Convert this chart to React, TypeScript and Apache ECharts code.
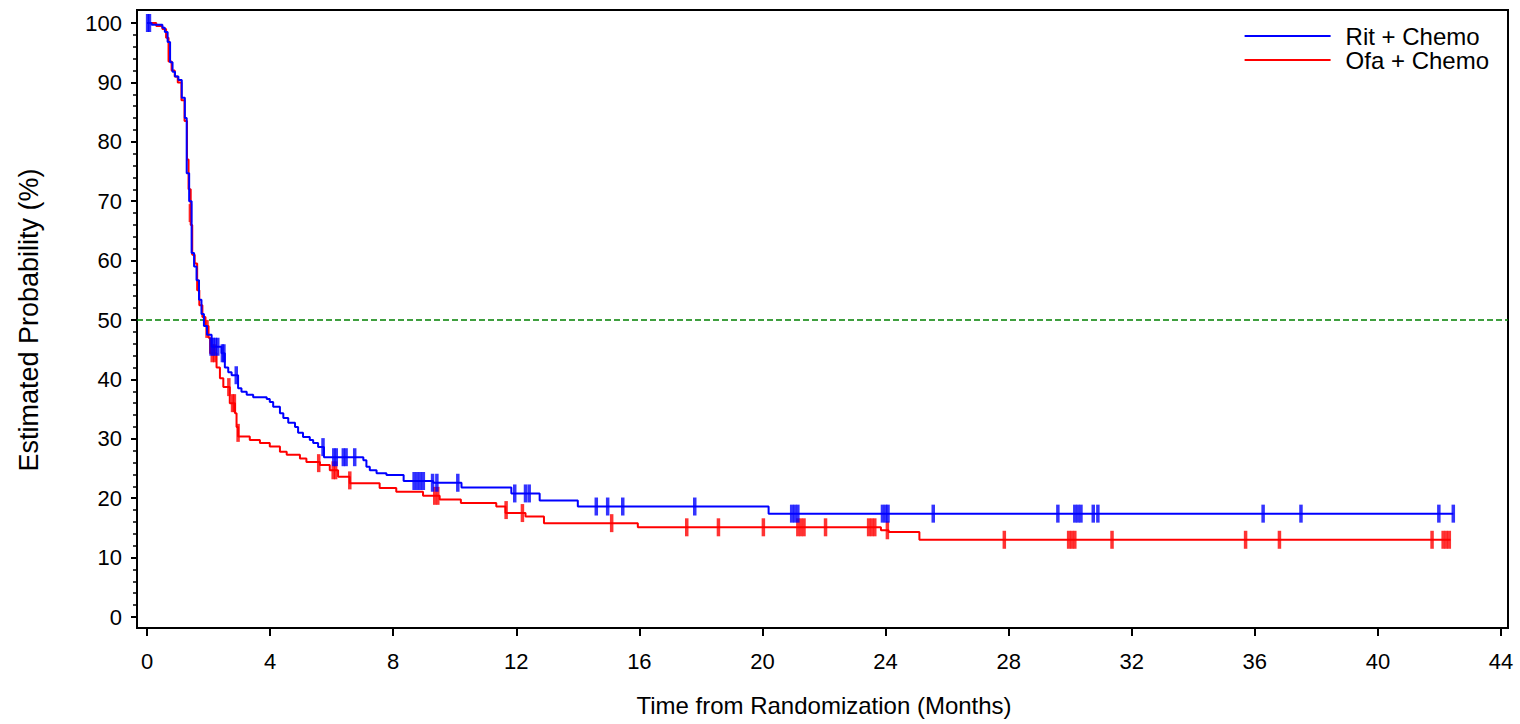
import React, { useEffect, useRef } from "react";
import * as echarts from "echarts";

const seriesNames = ["Rit + Chemo", "Ofa + Chemo"];
const xAxisTitle = "Time from Randomization (Months)";
const yAxisTitle = "Estimated Probability (%)";
const referenceLevel = 50;

// Kaplan-Meier step points [month, survival %]
const ritSteps: [number, number][] = [
  [0, 100], [0.15, 99.7], [0.5, 99.2], [0.58, 98.5], [0.67, 96.8], [0.75, 93.4], [0.83, 91.8],
  [0.91, 91.0], [1.02, 90.4], [1.13, 87.4], [1.23, 84.0], [1.29, 74.7], [1.37, 70.0], [1.45, 61.3],
  [1.53, 59.0], [1.61, 56.7], [1.69, 53.4], [1.77, 51.0], [1.85, 49.0], [1.95, 47.5], [2.1, 45.5],
  [2.42, 44.4], [2.53, 42.0], [2.64, 41.2], [2.75, 40.7], [2.96, 38.5], [3.07, 37.9], [3.24, 37.4],
  [3.45, 37.0], [3.89, 36.7], [3.99, 36.2], [4.1, 35.4], [4.32, 34.3], [4.43, 33.5], [4.59, 32.7],
  [4.81, 32.0], [4.91, 31.0], [5.07, 30.3], [5.29, 29.8], [5.4, 29.3], [5.56, 28.6], [5.75, 26.9],
  [7.03, 26.4], [7.13, 25.3], [7.24, 24.7], [7.46, 24.2], [7.78, 23.9], [8.34, 22.9], [9.3, 22.6],
  [10.22, 21.8], [11.84, 20.8], [12.76, 19.6], [14.0, 18.6], [20.2, 17.4], [42.45, 17.4],
];

const ritCensors: [number, number][] = [
  [0.02, 100], [0.08, 100], [2.08, 45.5], [2.15, 45.5], [2.22, 45.5], [2.3, 45.5], [2.45, 44.4],
  [2.5, 44.4], [2.9, 40.7], [5.72, 28.6], [6.07, 26.9], [6.15, 26.9], [6.38, 26.9], [6.47, 26.9],
  [6.75, 26.9], [8.68, 22.9], [8.78, 22.9], [8.88, 22.9], [8.98, 22.9], [9.28, 22.6], [9.42, 22.6],
  [10.1, 22.6], [11.95, 20.8], [12.3, 20.8], [12.42, 20.8], [14.6, 18.6], [14.97, 18.6], [15.46, 18.6],
  [17.8, 18.6], [20.95, 17.4], [21.05, 17.4], [21.15, 17.4], [23.9, 17.4], [24.0, 17.4], [24.08, 17.4],
  [25.55, 17.4], [29.6, 17.4], [30.15, 17.4], [30.25, 17.4], [30.35, 17.4], [30.75, 17.4], [30.9, 17.4],
  [36.27, 17.4], [37.5, 17.4], [41.98, 17.4], [42.45, 17.4],
];

const ofaSteps: [number, number][] = [
  [0, 100], [0.3, 99.5], [0.5, 99.0], [0.62, 97.5], [0.7, 93.5], [0.8, 92.0], [0.9, 91.0],
  [1.0, 90.0], [1.12, 87.0], [1.22, 83.5], [1.3, 77.0], [1.35, 72.0], [1.42, 66.0], [1.47, 61.0],
  [1.55, 59.5], [1.63, 55.0], [1.7, 52.5], [1.8, 50.5], [1.9, 49.0], [2.0, 47.0], [2.05, 44.4],
  [2.26, 42.0], [2.37, 40.2], [2.48, 38.7], [2.69, 36.0], [2.86, 34.3], [2.91, 32.0], [2.96, 30.4],
  [3.34, 29.8], [3.67, 29.3], [3.99, 28.7], [4.32, 27.8], [4.54, 27.3], [4.97, 26.7], [5.18, 26.1],
  [5.62, 25.6], [5.94, 24.7], [6.21, 23.6], [6.59, 22.5], [7.56, 21.7], [8.1, 21.1], [8.97, 20.4],
  [9.51, 19.8], [10.2, 19.2], [11.35, 18.6], [11.65, 17.5], [12.3, 16.9], [12.9, 15.8], [15.95, 15.1],
  [23.85, 14.6], [24.1, 14.3], [25.1, 13.0], [42.36, 13.0],
];

const ofaCensors: [number, number][] = [
  [1.41, 68], [1.95, 48.5], [2.12, 44.4], [2.2, 44.4], [2.66, 38.7], [2.78, 36.0], [2.84, 36.0],
  [2.96, 31.0], [5.58, 25.9], [6.05, 24.7], [6.13, 24.7], [6.59, 23.0], [9.35, 20.4], [9.45, 20.4],
  [11.67, 18.0], [12.2, 17.5], [15.1, 15.8], [17.54, 15.1], [18.57, 15.1], [20.03, 15.1], [21.15, 15.1],
  [21.25, 15.1], [21.35, 15.1], [22.05, 15.1], [23.45, 15.1], [23.55, 15.1], [23.65, 15.1], [24.06, 14.6],
  [27.86, 13.0], [29.95, 13.0], [30.05, 13.0], [30.15, 13.0], [31.36, 13.0], [35.7, 13.0], [36.8, 13.0],
  [41.76, 13.0], [42.12, 13.0], [42.22, 13.0], [42.32, 13.0],
];

const xRange: [number, number] = [0, 44];
const yRange: [number, number] = [0, 100];
const frameX: [number, number] = [-0.33, 44.2];
const frameY: [number, number] = [-1.85, 102.19];

export default function App() {
  const ref = useRef<HTMLDivElement>(null);
  useEffect(() => {
    const chart = echarts.init(ref.current!, null, { renderer: "svg" });
    const font = "'Liberation Sans', Arial, sans-serif";
    const blue = "#0000FF";
    const red = "#FF0000";
    const hidden = { show: false };
    chart.setOption({
      animation: false,
      backgroundColor: "#ffffff",
      textStyle: { fontFamily: font, color: "#000" },
      grid: [
        // 0: data area
        { left: 147, right: 19, top: 23, bottom: 107 },
        // 1: frame
        {
          left: 137, right: 12, top: 10, bottom: 96, show: true,
          borderColor: "#000", borderWidth: 2, backgroundColor: "transparent",
        },
        // 2: y axis
        { left: 137, right: 19, top: 23, bottom: 107 },
        // 3: x axis
        { left: 147, right: 19, top: 23, bottom: 96 },
      ],
      legend: {
        data: seriesNames,
        orient: "vertical",
        right: 26,
        top: 19,
        icon: "rect",
        itemWidth: 86,
        itemHeight: 2,
        itemGap: 0,
        textStyle: { fontSize: 24, color: "#000", fontFamily: font, padding: [0, 0, 0, 10] },
      },
      xAxis: [
        { gridIndex: 0, type: "value", min: xRange[0], max: xRange[1], show: false },
        { gridIndex: 1, type: "value", min: frameX[0], max: frameX[1], show: false },
        { gridIndex: 2, type: "value", min: xRange[0], max: xRange[1], show: false },
        {
          gridIndex: 3, type: "value", min: xRange[0], max: xRange[1], interval: 4,
          axisLine: { show: false },
          axisTick: { show: true, length: 8, lineStyle: { color: "#000", width: 2 } },
          axisLabel: { fontSize: 22, color: "#000", margin: 22, fontFamily: font },
          splitLine: hidden,
          name: xAxisTitle, nameLocation: "middle", nameGap: 65,
          nameTextStyle: { fontSize: 24, color: "#000", fontFamily: font },
        },
      ],
      yAxis: [
        { gridIndex: 0, type: "value", min: yRange[0], max: yRange[1], show: false },
        { gridIndex: 1, type: "value", min: frameY[0], max: frameY[1], show: false },
        {
          gridIndex: 2, type: "value", min: yRange[0], max: yRange[1], interval: 10,
          axisLine: { show: false },
          axisTick: { show: true, length: 6, lineStyle: { color: "#000", width: 2 } },
          minorTick: { show: true, splitNumber: 5, length: 4, lineStyle: { color: "#000", width: 1.5 } },
          axisLabel: { fontSize: 22, color: "#000", margin: 15, fontFamily: font },
          splitLine: hidden,
          minorSplitLine: hidden,
          name: yAxisTitle, nameLocation: "middle", nameGap: 95, nameRotate: 90,
          nameTextStyle: { fontSize: 27, color: "#000", fontFamily: font },
        },
        { gridIndex: 3, type: "value", min: yRange[0], max: yRange[1], show: false },
      ],
      series: [
        {
          name: "ref50", type: "line", xAxisIndex: 1, yAxisIndex: 1,
          data: [[frameX[0], referenceLevel], [frameX[1], referenceLevel]],
          symbol: "none", silent: true, z: 1,
          lineStyle: { color: "#008000", width: 1.5, type: [6, 3] },
        },
        {
          name: seriesNames[1], type: "line", step: "end", data: ofaSteps,
          xAxisIndex: 0, yAxisIndex: 0,
          symbol: "none", z: 2, color: red, lineStyle: { color: red, width: 2 },
        },
        {
          name: seriesNames[1] + " censored", type: "scatter", data: ofaCensors,
          xAxisIndex: 0, yAxisIndex: 0,
          symbol: "rect", symbolSize: [3.5, 18], z: 2, itemStyle: { color: red },
        },
        {
          name: seriesNames[0], type: "line", step: "end", data: ritSteps,
          xAxisIndex: 0, yAxisIndex: 0,
          symbol: "none", z: 3, color: blue, lineStyle: { color: blue, width: 2 },
        },
        {
          name: seriesNames[0] + " censored", type: "scatter", data: ritCensors,
          xAxisIndex: 0, yAxisIndex: 0,
          symbol: "rect", symbolSize: [3.5, 18], z: 3, itemStyle: { color: blue },
        },
      ],
    });
    return () => chart.dispose();
  }, []);
  return (
    <div
      ref={ref}
      style={{ position: "fixed", left: 0, top: 0, width: 1520, height: 724 }}
    />
  );
}
